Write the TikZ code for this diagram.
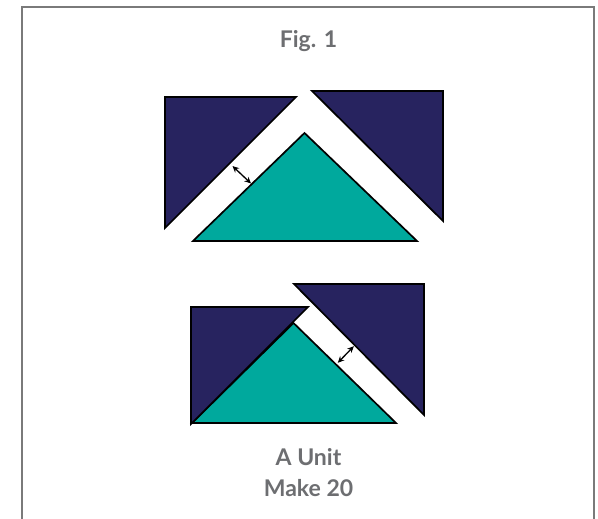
\documentclass[tikz,border=0pt]{standalone}
\usepackage{fontspec}
\setmainfont{Lato}
\usetikzlibrary{arrows.meta}
\definecolor{navy}{HTML}{27235F}
\definecolor{teal}{HTML}{00A99D}
\definecolor{framecol}{HTML}{7A7A7A}
\definecolor{txtcol}{HTML}{6D6E71}
\begin{document}
\begin{tikzpicture}[x=1pt,y=-1pt,
  navypiece/.style={fill=navy,draw=black,line width=1.7pt,line join=miter},
  tealpiece/.style={fill=teal,draw=black,line width=1.7pt,line join=miter},
  gaparrow/.style={{Stealth[length=6.5pt,width=6pt]}-{Stealth[length=6.5pt,width=6pt]},line width=1.3pt,black},
  label/.style={text=txtcol,font=\bfseries\fontsize{23}{27}\selectfont,inner sep=0pt}]
\useasboundingbox (0,0) rectangle (598,519);
\fill[white] (0,0) rectangle (598,519);
\draw[framecol,line width=1.5pt] (22,519) -- (22,7) -- (594,7) -- (594,519);
% top group
\draw[tealpiece] (193,241) -- (417,241) -- (304.5,133) -- cycle;
\draw[navypiece] (165,97) -- (296,97) -- (165,228) -- cycle;
\draw[navypiece] (312,91) -- (443,91) -- (443,221) -- cycle;
\coordinate (a1) at (232.5,166);
\coordinate (a2) at (251,183.5);
\draw[gaparrow] (a1) -- (a2);
% bottom group
\draw[tealpiece] (192,423) -- (396,423) -- (293.5,323) -- cycle;
\draw[navypiece] (191,307) -- (308,307) -- (191,424) -- cycle;
\draw[navypiece] (294,284) -- (424,284) -- (424,415) -- cycle;
\coordinate (b1) at (337.8,362.8);
\coordinate (b2) at (353.8,346.2);
\draw[gaparrow] (b1) -- (b2);
% texts
\node[label] (fig) at (308.5,41) {Fig. 1};
\node[label] (unit) at (308.5,457) {A Unit};
\node[label] (make) at (308.5,488) {Make 20};
\end{tikzpicture}
\end{document}
